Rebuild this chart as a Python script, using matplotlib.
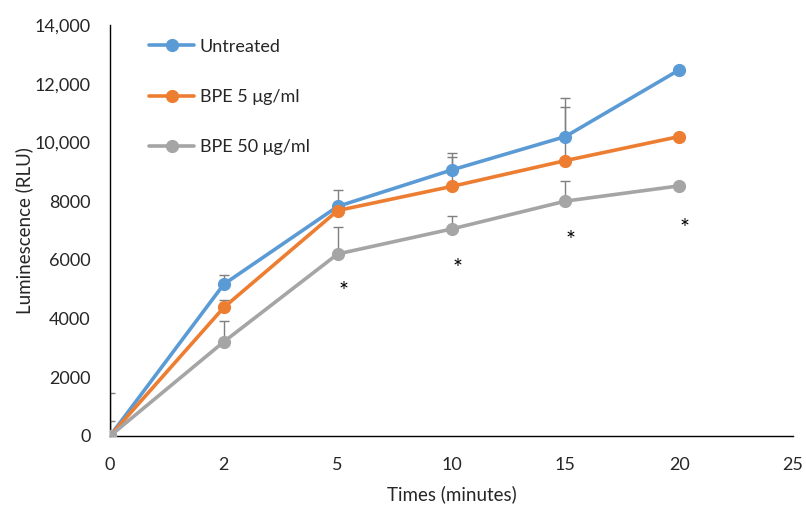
import matplotlib
matplotlib.use("Agg")
import matplotlib.pyplot as plt
import numpy as np

plt.rcParams['font.family'] = ['Lato', 'DejaVu Sans']

times = ["0", "2", "5", "10", "15", "20", "25"]
series_names = ["Untreated", "BPE 5 \u03bcg/ml", "BPE 50 \u03bcg/ml"]
untreated = [0, 5170, 7820, 9060, 10200, 12470]
bpe5 = [0, 4380, 7680, 8500, 9380, 10200]
bpe50 = [0, 3210, 6200, 7050, 8000, 8520]
err_untreated = [510, 330, 560, 590, 1300, 0]
err_bpe5 = [1450, 250, 0, 1000, 1820, 0]
err_bpe50 = [0, 710, 920, 450, 670, 0]
star_positions = [2, 3, 4, 5]
star_values = [5150, 5940, 6880, 7300]
ytick_vals = [0, 2000, 4000, 6000, 8000, 10000, 12000, 14000]
ytick_labels = ["0", "2000", "4000", "6000", "8000", "10,000", "12,000", "14,000"]

colors = ["#5B9BD5", "#ED7D31", "#A5A5A5"]

fig = plt.figure(figsize=(8.06, 5.05), dpi=100)
ax = fig.add_axes([110/806, 1-436/505, 683/806, 411/505])

x = np.arange(len(untreated))
for i, (vals, errs) in enumerate([(untreated, err_untreated), (bpe5, err_bpe5), (bpe50, err_bpe50)]):
    ax.errorbar(x, vals, yerr=[np.zeros(len(errs)), errs], fmt='none',
                ecolor='#7F7F7F', elinewidth=1.0, capsize=3.6, capthick=1.0, zorder=1 + i*0.1)
for i, vals in enumerate([untreated, bpe5, bpe50]):
    ax.plot(x, vals, color=colors[i], lw=2.6, marker='o', markersize=8.5,
            label=series_names[i], zorder=3 + i, solid_capstyle='round')

for xp, yv in zip(star_positions, star_values):
    ax.annotate("*", (xp + 0.05, yv), xytext=(0, -5), textcoords='offset points',
                ha='center', va='center', fontsize=17, color='black')

ax.set_xlim(0, 6)
ax.set_ylim(0, 14000)
ax.set_xticks(np.arange(len(times)))
ax.set_xticklabels(times)
ax.set_yticks(ytick_vals)
ax.set_yticklabels(ytick_labels)
ax.tick_params(axis='both', length=0, labelsize=13, colors='#262626')
ax.tick_params(axis='x', pad=15)
ax.tick_params(axis='y', pad=14)
for s in ['top', 'right']:
    ax.spines[s].set_visible(False)
for s in ['left', 'bottom']:
    ax.spines[s].set_color('black')
    ax.spines[s].set_linewidth(1.0)

ax.set_xlabel("Times (minutes)", fontsize=13.5, color='#262626', labelpad=9)
ax.set_ylabel("Luminescence (RLU)", fontsize=13.5, color='#262626', labelpad=1)

leg = ax.legend(loc='upper left', bbox_to_anchor=(0.04, 0.995), frameon=False,
                fontsize=13, handlelength=2.5, labelspacing=1.9, handletextpad=0.3,
                borderaxespad=0.25)
for t in leg.get_texts():
    t.set_color('#262626')

fig.savefig("out.png", dpi=100)
